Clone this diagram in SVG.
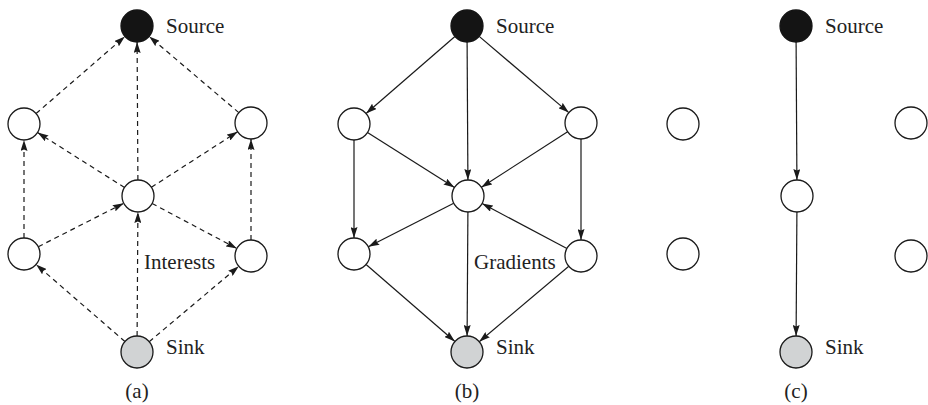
<svg xmlns="http://www.w3.org/2000/svg" width="928" height="405" viewBox="0 0 928 405" font-family="'Liberation Serif', 'Times New Roman', 'DejaVu Serif', serif">
<style>
.n{fill:#fff;stroke:#1a1a1a;stroke-width:1.3}
.src{fill:#141414;stroke:#141414;stroke-width:1.3}
.snk{fill:#d1d3d4;stroke:#1a1a1a;stroke-width:1.3}
.e{stroke:#1a1a1a;stroke-width:1.2;fill:none;marker-end:url(#ah)}
.d{stroke-dasharray:5 4}
text{font-family:'Liberation Serif','Times New Roman','DejaVu Serif',serif;font-size:21px;fill:#222}
.c{text-anchor:middle}
</style>
<defs>
<marker id="ah" markerUnits="userSpaceOnUse" markerWidth="11" markerHeight="7" refX="11" refY="3.5" orient="auto">
<path d="M0,0 L11,3.5 L0,7 L1.5,3.5 z" fill="#1a1a1a"/>
</marker>
</defs>

<!-- Panel (a) -->
<g id="panel-a">
<g id="a-connectors">
<line class="e d" x1="36.1" y1="113.5" x2="124.9" y2="36.5"/>
<line class="e d" x1="137.9" y1="180" x2="137.1" y2="42"/>
<line class="e d" x1="238.8" y1="112.6" x2="149.2" y2="36.4"/>
<line class="e d" x1="124.5" y1="187.5" x2="37.5" y2="132.5"/>
<line class="e d" x1="151.4" y1="187.3" x2="237.6" y2="131.7"/>
<line class="e d" x1="24" y1="238" x2="24" y2="140"/>
<line class="e d" x1="251" y1="240" x2="251" y2="139"/>
<line class="e d" x1="38.3" y1="246.7" x2="123.7" y2="203.3"/>
<line class="e d" x1="137.1" y1="336" x2="137.9" y2="212"/>
<line class="e d" x1="152.1" y1="203.5" x2="236.9" y2="248.5"/>
<line class="e d" x1="124.9" y1="341.5" x2="36.1" y2="264.5"/>
<line class="e d" x1="149.2" y1="341.7" x2="238.8" y2="266.3"/>
</g>
<g id="a-source"><circle class="src" cx="137" cy="26" r="16"/><text x="166" y="33">Source</text></g>
<g id="a-left-top"><circle class="n" cx="24" cy="124" r="16"/></g>
<g id="a-right-top"><circle class="n" cx="251" cy="123" r="16"/></g>
<g id="a-center"><circle class="n" cx="138" cy="196" r="16"/></g>
<g id="a-left-bottom"><circle class="n" cx="24" cy="254" r="16"/></g>
<g id="a-right-bottom"><circle class="n" cx="251" cy="256" r="16"/></g>
<g id="a-sink"><circle class="snk" cx="137" cy="352" r="16"/><text x="166" y="354">Sink</text></g>
<text x="144" y="269">Interests</text>
<text class="c" x="137" y="398">(a)</text>
</g>

<!-- Panel (b) -->
<g id="panel-b" transform="translate(330,0)">
<g id="b-connectors">
<line class="e" x1="124.9" y1="36.5" x2="36.1" y2="113.5"/>
<line class="e" x1="137.1" y1="42" x2="137.9" y2="180"/>
<line class="e" x1="149.2" y1="36.4" x2="238.8" y2="112.6"/>
<line class="e" x1="37.5" y1="132.5" x2="124.5" y2="187.5"/>
<line class="e" x1="237.6" y1="131.7" x2="151.4" y2="187.3"/>
<line class="e" x1="24" y1="140" x2="24" y2="238"/>
<line class="e" x1="251" y1="139" x2="251" y2="240"/>
<line class="e" x1="123.7" y1="203.3" x2="38.3" y2="246.7"/>
<line class="e" x1="236.9" y1="248.5" x2="152.1" y2="203.5"/>
<line class="e" x1="36.1" y1="264.5" x2="124.9" y2="341.5"/>
<line class="e" x1="137.9" y1="212" x2="137.1" y2="336"/>
<line class="e" x1="238.8" y1="266.3" x2="149.2" y2="341.7"/>
</g>
<g id="b-source"><circle class="src" cx="137" cy="26" r="16"/><text x="166" y="33">Source</text></g>
<g id="b-left-top"><circle class="n" cx="24" cy="124" r="16"/></g>
<g id="b-right-top"><circle class="n" cx="251" cy="123" r="16"/></g>
<g id="b-center"><circle class="n" cx="138" cy="196" r="16"/></g>
<g id="b-left-bottom"><circle class="n" cx="24" cy="254" r="16"/></g>
<g id="b-right-bottom"><circle class="n" cx="251" cy="256" r="16"/></g>
<g id="b-sink"><circle class="snk" cx="137" cy="352" r="16"/><text x="166" y="354">Sink</text></g>
<text x="144" y="269">Gradients</text>
<text class="c" x="137" y="398">(b)</text>
</g>

<!-- Panel (c) -->
<g id="panel-c" transform="translate(659,0)">
<g id="c-connectors">
<line class="e" x1="137.1" y1="42" x2="137.9" y2="180"/>
<line class="e" x1="137.9" y1="212" x2="137.1" y2="336"/>
</g>
<g id="c-source"><circle class="src" cx="137" cy="26" r="16"/><text x="166" y="33">Source</text></g>
<g id="c-left-top"><circle class="n" cx="24" cy="124" r="16"/></g>
<g id="c-right-top"><circle class="n" cx="252" cy="123" r="16"/></g>
<g id="c-center"><circle class="n" cx="138" cy="196" r="16"/></g>
<g id="c-left-bottom"><circle class="n" cx="24" cy="254" r="16"/></g>
<g id="c-right-bottom"><circle class="n" cx="252" cy="256" r="16"/></g>
<g id="c-sink"><circle class="snk" cx="137" cy="352" r="16"/><text x="166" y="354">Sink</text></g>
<text class="c" x="137" y="398">(c)</text>
</g>
</svg>
